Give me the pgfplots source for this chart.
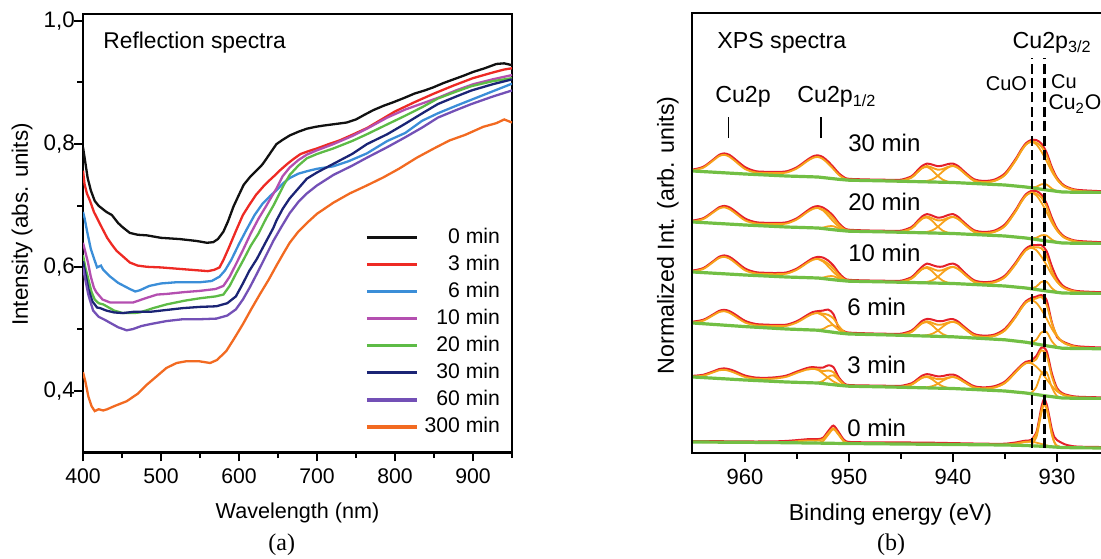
\documentclass[border=0pt]{standalone}
\usepackage{pgfplots}
\pgfplotsset{compat=1.18}
\usepackage{pgfplotstable}
\usepackage{fontspec}
\setmainfont{Liberation Sans}
\newfontfamily\timesfont{Liberation Serif}
\definecolor{cA}{HTML}{111111}
\definecolor{cB}{HTML}{EE2A24}
\definecolor{cC}{HTML}{3B8ED8}
\definecolor{cD}{HTML}{B44FB0}
\definecolor{cE}{HTML}{5DBB46}
\definecolor{cF}{HTML}{1B2475}
\definecolor{cG}{HTML}{7350B6}
\definecolor{cH}{HTML}{F26A21}
\definecolor{xred}{HTML}{E4202A}
\definecolor{xorg}{HTML}{F7A21B}
\definecolor{xgrn}{HTML}{72BF44}

% XPS spectra: E = binding energy, env = fit envelope, red = measured
\pgfplotstableread{
E env red
965 282.6 282.6
964 285.4 285.4
963 293.0 293.0
962.5 296.9 297.2
962 298.2 298.7
961.5 296.3 297.2
961 292.3 293.3
960 284.0 285.0
959 280.6 281.0
958 280.0 280.3
957 279.9 280.2
956 280.5 280.8
955 284.7 285.0
954 292.0 292.4
953.5 295.0 295.6
953 296.1 296.8
952.5 293.9 294.9
952 289.3 290.5
951.5 283.9 285.0
951 278.3 279.0
950.5 274.7 275.0
950 273.3 273.3
948 272.4 272.6
946 272.0 272.3
945 272.1 272.4
944 275.4 275.8
943.5 280.0 280.8
943 284.8 286.0
942.5 287.0 288.5
942 285.3 287.5
941.5 283.4 286.0
941 283.9 286.5
940.5 286.1 288.0
940 287.2 288.5
939.5 285.0 286.0
939 280.6 281.3
938 272.7 273.0
937 270.9 271.2
936 272.2 272.6
935 278.1 278.8
934 292.3 292.8
933.5 301.0 301.5
933 308.3 308.8
932.5 311.4 312.0
932 310.4 312.0
931.5 306.4 308.5
931 297.5 299.5
930.5 283.7 285.0
930 273.8 274.3
929.5 267.9 268.2
929 264.9 265.0
928 262.1 262.2
925 260.6 260.6
}\tThirty
\pgfplotstableread{
E env red
965 231.6 231.6
964 234.0 234.0
963 241.0 241.0
962.5 244.5 244.8
962 245.7 246.2
961.5 243.9 244.8
961 240.3 241.3
960 232.6 233.6
959 229.6 230.0
958 229.0 229.3
957 228.9 229.2
956 229.5 229.8
955 233.7 234.0
954 241.0 241.5
953.5 244.0 244.8
953 245.1 246.0
952.5 243.4 244.5
952 239.9 241.0
951.5 234.8 236.0
951 228.4 229.2
950.5 224.0 224.3
950 222.4 222.4
948 221.4 221.6
946 221.0 221.3
945 221.1 221.4
944 224.5 225.0
943.5 229.3 230.0
943 234.3 235.5
942.5 236.5 238.0
942 234.7 236.5
941.5 232.7 234.5
941 233.0 235.0
940.5 235.1 237.0
940 236.2 238.0
939.5 234.0 235.2
939 229.6 230.3
938 221.7 222.0
937 219.9 220.2
936 221.2 221.6
935 227.1 227.8
934 241.3 241.8
933.5 250.0 250.5
933 257.3 257.8
932.5 260.4 261.0
932 259.4 261.0
931.5 255.4 257.5
931 246.5 248.5
930.5 232.7 234.5
930 222.8 223.5
929.5 216.9 217.2
929 213.9 214.0
928 211.1 211.2
925 209.6 209.6
}\tTwenty
\pgfplotstableread{
E env red
965 181.6 181.6
964 184.1 184.1
963 191.4 191.4
962.5 195.0 195.3
962 196.2 196.7
961.5 194.4 195.3
961 190.7 191.7
960 182.7 183.6
959 179.6 180.0
958 179.0 179.3
957 178.8 179.1
956 179.4 179.7
955 183.4 183.7
954 190.2 190.6
953.5 193.1 193.8
953 194.1 195.2
952.5 192.5 194.5
952 189.2 191.5
951.5 184.4 186.5
951 178.2 179.5
950.5 173.9 174.3
950 172.3 172.3
948 171.4 171.6
946 171.0 171.3
945 171.1 171.4
944 174.4 174.9
943.5 179.0 179.8
943 183.8 185.2
942.5 186.0 188.5
942 184.3 187.0
941.5 182.4 185.5
941 182.9 185.5
940.5 185.1 187.5
940 186.2 188.5
939.5 184.0 186.0
939 179.6 180.5
938 171.6 172.0
937 169.7 170.0
936 170.8 171.2
935 176.0 176.6
934 188.6 189.2
933.5 196.3 197.0
933 202.7 203.5
932.5 205.6 206.5
932 205.7 207.0
931.5 204.7 207.0
931 197.0 201.0
930.5 182.1 186.0
930 171.7 174.0
929.5 166.2 167.0
929 163.5 163.8
928 160.9 161.0
925 159.6 159.6
}\tTen
\pgfplotstableread{
E env red
965 130.5 130.5
964 132.4 132.4
963 138.1 138.1
962.5 140.9 141.2
962 141.8 142.3
961.5 140.2 141.0
961 137.1 138.0
960 130.5 131.3
959 127.8 128.2
958 127.2 127.5
957 126.9 127.2
956 127.2 127.5
955 130.6 131.0
954 136.6 137.2
953.5 139.0 140.0
953 140.1 141.0
952.5 139.3 141.5
952 138.1 142.5
951.5 134.6 138.0
951 127.1 124.5
950.5 121.5 121.0
950 119.5 119.5
948 118.5 118.7
946 118.0 118.3
945 118.1 118.4
944 121.0 121.5
943.5 125.3 126.0
943 129.7 131.0
942.5 131.7 133.2
942 130.1 132.5
941.5 128.3 131.0
941 128.6 131.0
940.5 130.4 132.5
940 131.3 133.0
939.5 129.4 130.5
939 125.2 126.0
938 117.9 118.2
937 116.2 116.5
936 117.2 117.6
935 122.7 123.4
934 135.7 136.2
933.5 143.7 144.2
933 150.4 150.8
932.5 153.3 154.0
932 154.5 155.5
931.5 155.9 157.0
931 148.1 152.0
930.5 129.8 130.0
930 117.4 115.0
929.5 111.3 111.0
929 108.5 108.6
928 105.7 105.8
925 104.3 104.3
}\tSix
\pgfplotstableread{
E env red
965 76.3 76.3
964 77.4 77.4
963 80.9 81.0
962.5 82.7 83.0
962 83.2 83.7
961.5 82.1 82.8
961 80.2 81.0
960 76.0 76.6
959 74.3 74.6
958 74.0 74.3
957 74.6 74.9
956 76.3 76.6
955 80.2 80.6
954 83.6 84.2
953.5 84.2 85.0
953 83.5 84.5
952.5 81.9 84.5
952 82.5 86.8
951.5 80.8 85.0
951 74.2 75.0
950.5 68.8 69.0
950 67.1 67.1
948 66.4 66.6
946 66.0 66.3
945 66.0 66.3
944 68.4 68.8
943.5 71.7 72.3
943 75.2 76.3
942.5 76.7 78.0
942 75.4 77.0
941.5 73.9 75.8
941 74.0 76.0
940.5 75.4 77.2
940 76.1 77.6
939.5 74.5 75.6
939 71.4 72.0
938 65.8 66.0
937 64.6 64.8
936 65.6 66.0
935 70.1 70.6
934 80.5 81.0
933.5 85.9 86.3
933 89.8 90.3
932.5 90.8 91.5
932 93.7 96.0
931.5 102.8 104.5
931 97.7 101.0
930.5 76.7 79.0
930 63.1 64.0
929.5 58.7 59.0
929 57.0 57.1
928 55.3 55.4
925 54.6 54.6
}\tThree
\pgfplotstableread{
E env red
965 11.0 11.0
963 10.9 10.9
961 10.8 10.8
959 10.6 10.6
957 10.6 10.8
956 10.9 11.2
955 11.7 12.0
954 12.5 12.9
953.5 12.5 13.0
953 12.5 13.0
952.5 13.9 14.3
952 19.9 21.0
951.5 24.7 26.5
951 18.8 20.0
950.5 11.9 12.5
950 9.9 10.2
948 9.3 9.8
946 9.1 9.8
944 8.9 9.6
942 8.7 9.4
940 8.5 9.0
938 8.3 8.6
936 8.1 8.3
935 8.2 8.4
934 9.3 9.6
933.5 10.3 10.6
933 11.2 11.5
932.5 11.9 12.2
932 18.8 19.5
931.75 29.4 31.0
931.5 42.6 45.0
931.25 49.8 53.0
931 45.4 48.0
930.75 32.7 36.0
930.5 19.2 23.0
930.25 10.9 15.0
930 7.2 12.0
929.5 5.5 9.0
929 5.4 7.0
928 5.2 5.5
925 5.0 5.0
}\tZero

\begin{document}
\fontsize{10.8pt}{13pt}\selectfont
\begin{tikzpicture}
\useasboundingbox (0pt,0pt) rectangle (550.5pt,279pt);
\begin{scope}
\clip (0pt,0pt) rectangle (550.5pt,279pt);
% ---------------- (a) reflection spectra ----------------
\begin{axis}[
  at={(41.5pt,52.8pt)}, anchor=south west, scale only axis,
  width=214.5pt, height=219.2pt,
  xmin=400, xmax=950, ymin=0.3, ymax=1.011,
  axis line style={line width=1.2pt},
  tick style={black, line width=1pt},
  tick align=outside, xtick pos=left, ytick pos=left,
  major tick length=4.5pt, minor tick length=2.8pt,
  xtick={400,500,600,700,800,900}, xticklabels={400,500,600,700,800,900},
  minor xtick={450,550,650,750,850,950},
  ytick={0.4,0.6,0.8,1.0}, yticklabels={{0,4},{0,6},{0,8},{1,0}},
  minor ytick={0.5,0.7,0.9},
  xticklabel style={font=\fontsize{10.6pt}{12pt}\selectfont},
  yticklabel style={font=\fontsize{11.2pt}{13pt}\selectfont, xshift=4.2pt},
  xlabel={Wavelength (nm)}, ylabel={Intensity (abs. units)},
  every axis x label/.style={at={(axis description cs:0.5,0)}, anchor=center, yshift=-30.3pt, font=\fontsize{10.8pt}{13pt}\selectfont},
  every axis y label/.style={at={(axis description cs:-0.1422,0.52)}, anchor=center, rotate=90, font=\fontsize{11.2pt}{13pt}\selectfont},
  legend style={at={(axis cs:934.6,0.671)}, anchor=north east, draw=none, fill=none,
    inner sep=0pt, outer sep=0pt, row sep=0pt, column sep=3pt,
    font=\fontsize{10.6pt}{12pt}\selectfont,
    nodes={inner sep=0pt, minimum height=13.55pt}},
  legend cell align=right,
  legend image code/.code={\draw[#1, line width=1.7pt] (2pt,0pt) -- (27pt,0pt);},
  every axis plot/.append style={line width=1.15pt},
]
\addplot[cA] coordinates {(400,0.795) (403,0.77) (406,0.745) (410,0.725) (415,0.708) (420,0.70) (430,0.69) (437,0.685) (445,0.672) (451,0.665) (460,0.656) (470,0.653) (482,0.652) (500,0.648) (524,0.646) (545,0.643) (559,0.640) (567,0.641) (573,0.646) (580,0.658) (586,0.675) (593,0.699) (600,0.718) (606,0.734) (615,0.748) (623,0.758) (630,0.767) (635,0.776) (642,0.789) (648,0.800) (656,0.807) (665,0.814) (676,0.820) (687,0.825) (698,0.828) (708,0.830) (720,0.832) (738,0.835) (750,0.840) (760,0.847) (772,0.855) (785,0.862) (798,0.868) (812,0.875) (825,0.882) (838,0.887) (849,0.892) (862,0.899) (875,0.905) (888,0.911) (900,0.917) (915,0.923) (930,0.930) (940,0.931) (950,0.928)};
\addlegendentry{0 min}
\addplot[cB] coordinates {(400,0.757) (402,0.735) (405,0.72) (409,0.708) (414,0.69) (418,0.68) (424,0.665) (431,0.648) (437,0.637) (443,0.627) (452,0.617) (460,0.608) (470,0.603) (482,0.601) (500,0.600) (520,0.598) (540,0.596) (560,0.594) (568,0.596) (575,0.600) (580,0.612) (587,0.632) (597,0.662) (605,0.685) (614,0.703) (622,0.718) (631,0.731) (638,0.740) (644,0.747) (653,0.758) (662,0.768) (670,0.776) (679,0.784) (690,0.789) (700,0.793) (715,0.800) (729,0.806) (745,0.815) (764,0.826) (780,0.838) (800,0.853) (825,0.868) (850,0.882) (875,0.895) (900,0.907) (925,0.916) (940,0.921) (950,0.923)};
\addlegendentry{3 min}
\addplot[cC] coordinates {(400,0.69) (402,0.68) (405,0.66) (410,0.63) (414,0.615) (418,0.60) (423,0.603) (426,0.596) (435,0.585) (445,0.575) (451,0.571) (460,0.565) (467,0.561) (473,0.563) (485,0.570) (500,0.574) (520,0.576) (550,0.576) (565,0.578) (575,0.585) (582,0.595) (590,0.612) (600,0.638) (610,0.662) (620,0.685) (630,0.703) (640,0.716) (648,0.725) (657,0.737) (665,0.745) (676,0.752) (687,0.756) (700,0.760) (721,0.764) (740,0.772) (764,0.785) (790,0.805) (813,0.818) (835,0.838) (855,0.850) (878,0.862) (898,0.872) (920,0.883) (940,0.893) (950,0.898)};
\addlegendentry{6 min}
\addplot[cD] coordinates {(400,0.64) (403,0.625) (406,0.61) (410,0.585) (414,0.567) (417,0.56) (425,0.548) (435,0.543) (450,0.543) (464,0.543) (480,0.550) (495,0.556) (507,0.557) (530,0.560) (550,0.562) (570,0.565) (580,0.570) (588,0.585) (596,0.605) (605,0.628) (615,0.655) (625,0.679) (635,0.700) (648,0.728) (656,0.748) (665,0.762) (676,0.774) (687,0.783) (700,0.790) (721,0.800) (745,0.813) (764,0.825) (790,0.843) (813,0.856) (835,0.866) (855,0.875) (878,0.887) (900,0.897) (925,0.905) (950,0.912)};
\addlegendentry{10 min}
\addplot[cE] coordinates {(400,0.62) (403,0.60) (407,0.58) (411,0.56) (415,0.548) (420,0.542) (426,0.540) (440,0.530) (451,0.526) (465,0.526) (473,0.527) (490,0.534) (507,0.540) (530,0.546) (550,0.550) (570,0.553) (580,0.556) (588,0.570) (597,0.592) (606,0.613) (615,0.635) (625,0.655) (635,0.680) (644,0.700) (652,0.720) (658,0.735) (665,0.750) (676,0.765) (687,0.777) (700,0.784) (721,0.793) (745,0.805) (764,0.816) (790,0.832) (813,0.846) (835,0.860) (855,0.874) (878,0.885) (898,0.894) (925,0.902) (950,0.907)};
\addlegendentry{20 min}
\addplot[cF] coordinates {(400,0.61) (403,0.59) (407,0.565) (412,0.545) (418,0.535) (422,0.534) (430,0.530) (440,0.527) (451,0.526) (465,0.528) (486,0.528) (507,0.531) (528,0.534) (550,0.536) (571,0.537) (585,0.542) (596,0.553) (605,0.574) (613,0.594) (623,0.614) (633,0.638) (644,0.664) (648,0.676) (656,0.695) (665,0.712) (676,0.728) (687,0.744) (700,0.754) (721,0.768) (745,0.784) (764,0.800) (790,0.816) (813,0.833) (835,0.850) (855,0.865) (878,0.877) (898,0.887) (925,0.897) (950,0.905)};
\addlegendentry{30 min}
\addplot[cG] coordinates {(400,0.60) (403,0.58) (407,0.555) (413,0.530) (420,0.520) (428,0.515) (435,0.510) (445,0.503) (456,0.498) (464,0.500) (475,0.505) (486,0.508) (507,0.513) (528,0.516) (550,0.516) (571,0.517) (585,0.522) (596,0.532) (605,0.548) (614,0.568) (623,0.590) (633,0.615) (644,0.643) (654,0.665) (665,0.688) (676,0.706) (687,0.720) (700,0.733) (721,0.750) (745,0.765) (764,0.778) (790,0.795) (813,0.811) (835,0.827) (855,0.843) (878,0.855) (898,0.865) (925,0.877) (950,0.887)};
\addlegendentry{60 min}
\addplot[cH] coordinates {(400,0.43) (403,0.415) (407,0.39) (411,0.375) (415,0.367) (420,0.370) (426,0.368) (431,0.370) (440,0.375) (456,0.383) (470,0.395) (482,0.410) (495,0.424) (507,0.437) (520,0.445) (533,0.448) (548,0.448) (563,0.445) (572,0.450) (584,0.465) (594,0.485) (605,0.508) (616,0.533) (627,0.557) (638,0.580) (648,0.603) (658,0.625) (665,0.640) (676,0.658) (687,0.672) (700,0.687) (721,0.705) (742,0.720) (764,0.733) (785,0.746) (805,0.760) (828,0.778) (850,0.793) (870,0.806) (890,0.815) (913,0.828) (930,0.834) (940,0.840) (950,0.835)};
\addlegendentry{300 min}
\node[anchor=west, inner sep=0pt, font=\fontsize{11.4pt}{13pt}\selectfont] at (axis cs:425.6,0.964) {Reflection spectra};
\end{axis}
% ---------------- (b) XPS spectra ----------------
\begin{axis}[
  at={(346pt,52.5pt)}, anchor=south west, scale only axis,
  width=208.5pt, height=220pt,
  x dir=reverse, xmin=925, xmax=965.1, ymin=0, ymax=440,
  axis line style={line width=1.2pt},
  tick style={black, line width=1pt},
  tick align=outside, xtick pos=left,
  major tick length=4.5pt, minor tick length=2.8pt,
  xtick={930,940,950,960}, xticklabels={930,940,950,960},
  minor xtick={935,945,955},
  ytick=\empty,
  tick label style={font=\fontsize{11pt}{13pt}\selectfont},
  xlabel={Binding energy (eV)}, ylabel={Normalized Int. (arb. units)},
  every axis x label/.style={at={(axis description cs:0.476,0)}, anchor=center, yshift=-31pt, font=\fontsize{11.5pt}{13pt}\selectfont},
  every axis y label/.style={at={(axis description cs:-0.0576,0.495)}, anchor=center, rotate=90, font=\fontsize{11.6pt}{13pt}\selectfont},
  red/.style={xred, line width=1pt, smooth, tension=0.5, yshift=0.45pt},
  env/.style={xorg, line width=0.95pt, smooth, tension=0.5},
  comp/.style={xorg, line width=0.9pt, smooth, tension=0.5},
  bg/.style={xgrn, line width=1.6pt},
]
% 30 min
\addplot[red] table[x=E,y=red] {\tThirty};
\addplot[env] table[x=E,y=env] {\tThirty};
\addplot[comp] coordinates {(945,272.1)(944,275.4)(943.5,280.0)(943,284.6)(942.5,286.0)(942,282.7)(941.5,277.5)(941,273.4)(940.5,271.4)(940,270.5)};
\addplot[comp] coordinates {(943,271.5)(942.5,272.1)(942,273.6)(941.5,276.8)(941,281.4)(940.5,285.3)(940,287.0)(939.5,285.0)(939,280.6)(938,272.1)(937,269.3)};
\addplot[comp] coordinates {(937,270.6)(936,272.2)(935,278.1)(934,292.3)(933.5,301.0)(933,308.3)(932.5,311.2)(932,308.7)(931.5,301.4)(931,292.0)(930.5,281.5)(930,273.5)(929.5,267.9)(929,264.9)(928,262.1)};
\addplot[comp] coordinates {(932.5,265.4)(932,266.2)(931.5,268.7)(931,268.5)(930.5,264.4)(930,261.8)(929.5,261.0)};
\addplot[bg] coordinates {(965,282)(960,279)(956,277)(953,276)(951,273.7)(950,272.8)(946,272)(940,270.5)(935,268)(933,266)(931,263)(929.5,261)(928,260.7)(925,260.6)};
% 20 min
\addplot[red] table[x=E,y=red] {\tTwenty};
\addplot[env] table[x=E,y=env] {\tTwenty};
\addplot[comp] coordinates {(945,221.1)(944,224.5)(943.5,229.2)(943,234.0)(942.5,235.5)(942,232.1)(941.5,226.7)(941,222.4)(940.5,220.4)(940,219.7)};
\addplot[comp] coordinates {(943,220.5)(942.5,221.1)(942,222.6)(941.5,225.8)(941,230.4)(940.5,234.3)(940,236.0)(939.5,234.0)(939,229.6)(938,221.1)(937,218.3)};
\addplot[comp] coordinates {(953,225.1)(952.5,225.4)(952,226.7)(951.5,226.8)(951,224.6)(950.5,222.5)(950,221.8)};
\addplot[comp] coordinates {(953,245.0)(952.5,242.5)(952,237.2)(951.5,231.4)(951,226.5)(950.5,223.5)(950,222.3)};
\addplot[comp] coordinates {(937,219.6)(936,221.2)(935,227.1)(934,241.3)(933.5,250.0)(933,257.3)(932.5,260.2)(932,257.7)(931.5,250.4)(931,241.0)(930.5,230.5)(930,222.5)(929.5,216.9)(929,213.9)(928,211.1)};
\addplot[comp] coordinates {(932.5,214.4)(932,215.2)(931.5,217.7)(931,217.5)(930.5,213.4)(930,210.8)(929.5,210.0)};
\addplot[bg] coordinates {(965,231)(960,228)(956,226)(953,225)(951,222.7)(950,221.8)(946,221)(940,219.5)(935,217)(933,215)(931,212)(929.5,210)(928,209.7)(925,209.6)};
% 10 min
\addplot[red] table[x=E,y=red] {\tTen};
\addplot[env] table[x=E,y=env] {\tTen};
\addplot[comp] coordinates {(945,171.1)(944,174.4)(943.5,179.0)(943,183.6)(942.5,185.0)(942,181.7)(941.5,176.5)(941,172.4)(940.5,170.4)(940,169.7)};
\addplot[comp] coordinates {(943,170.5)(942.5,171.1)(942,172.6)(941.5,175.8)(941,180.4)(940.5,184.3)(940,186.0)(939.5,184.0)(939,179.6)(938,171.1)(937,168.3)};
\addplot[comp] coordinates {(953,175.1)(952.5,175.4)(952,176.7)(951.5,176.8)(951,174.6)(950.5,172.5)(950,171.8)};
\addplot[comp] coordinates {(953,194.0)(952.5,191.6)(952,186.5)(951.5,181.0)(951,176.3)(950.5,173.4)(950,172.3)};
\addplot[comp] coordinates {(937,169.4)(936,170.8)(935,176.0)(934,188.6)(933.5,196.3)(933,202.7)(932.5,205.2)(932,202.9)(931.5,196.3)(931,187.8)(930.5,178.4)(930,171.2)(929.5,166.2)(929,163.5)(928,160.9)};
\addplot[comp] coordinates {(932.5,164.6)(932,166.3)(931.5,171.1)(931,171.2)(930.5,164.9)(930,161.1)(929.5,160.0)};
\addplot[bg] coordinates {(965,181)(960,178)(956,176)(953,175)(951,172.7)(950,171.8)(946,171)(940,169.5)(935,167)(933,165)(931,162)(929.5,160)(928,159.7)(925,159.6)};
% 6 min
\addplot[red] table[x=E,y=red] {\tSix};
\addplot[env] table[x=E,y=env] {\tSix};
\addplot[comp] coordinates {(945,118.1)(944,121.0)(943.5,125.3)(943,129.5)(942.5,130.8)(942,127.7)(941.5,122.9)(941,119.0)(940.5,117.0)(940,116.3)};
\addplot[comp] coordinates {(943,117.3)(942.5,117.8)(942,119.2)(941.5,122.1)(941,126.2)(940.5,129.7)(940,131.2)(939.5,129.4)(939,125.2)(938,117.4)(937,114.7)};
\addplot[comp] coordinates {(953,123.1)(952.5,124.0)(952,126.9)(951.5,127.8)(951,123.9)(950.5,120.2)(950,119.1)};
\addplot[comp] coordinates {(953,139.8)(952.5,137.5)(952,132.8)(951.5,127.7)(951,123.2)(950.5,120.5)(950,119.4)};
\addplot[comp] coordinates {(937,115.9)(936,117.2)(935,122.7)(934,135.7)(933.5,143.7)(933,150.4)(932.5,152.8)(932,150.3)(931.5,143.3)(931,134.3)(930.5,124.3)(930,116.6)(929.5,111.3)(929,108.5)(928,105.7)};
\addplot[comp] coordinates {(932.5,110.3)(932,113.2)(931.5,120.6)(931,121.0)(930.5,111.8)(930,106.2)(929.5,104.8)};
\addplot[bg] coordinates {(965,130)(960,126.4)(956,124)(953,122.8)(951,120)(950,119)(946,118)(940,116.2)(935,113.2)(933,110.8)(931,107.2)(929.5,104.8)(928,104.4)(925,104.3)};
% 3 min
\addplot[red] table[x=E,y=red] {\tThree};
\addplot[env] table[x=E,y=env] {\tThree};
\addplot[comp] coordinates {(945,66.0)(944,68.4)(943.5,71.7)(943,75.0)(942.5,76.0)(942,73.6)(941.5,69.7)(941,66.7)(940.5,65.2)(940,64.6)};
\addplot[comp] coordinates {(943,65.4)(942.5,65.8)(942,66.8)(941.5,69.0)(941,72.2)(940.5,74.8)(940,76.0)(939.5,74.5)(939,71.4)(938,65.3)(937,63.2)};
\addplot[comp] coordinates {(953,70.4)(952.5,72.0)(952,76.2)(951.5,77.7)(951,72.9)(950.5,68.3)(950,66.9)};
\addplot[comp] coordinates {(954,83.3)(953.5,84.2)(953,83.2)(952.5,79.4)(952,75.3)(951.5,71.5)(951,69.0)(950.5,67.4)(950,66.9)};
\addplot[comp] coordinates {(937,64.4)(936,65.6)(935,70.1)(934,80.5)(933.5,85.9)(933,89.8)(932.5,89.9)(932,86.4)(931.5,81.0)(931,73.7)(930.5,67.1)(930,61.7)(929.5,58.7)(929,57.0)(928,55.3)};
\addplot[comp] coordinates {(932.5,60.1)(932,65.8)(931.5,79.5)(931,80.9)(930.5,65.8)(930,56.9)(929.5,55.0)};
\addplot[bg] coordinates {(965,76)(960,73)(956,71)(953,70)(951,67.7)(950,66.8)(946,66)(940,64.5)(935,62)(933,60)(931,57)(929.5,55)(928,54.7)(925,54.6)};
% 0 min
\addplot[red] table[x=E,y=red] {\tZero};
\addplot[env] table[x=E,y=env] {\tZero};
\addplot[comp] coordinates {(953,10.1)(952.5,11.9)(952,18.3)(951.5,23.7)(951,18.1)(950.5,11.6)(950,9.7)};
\addplot[comp] coordinates {(935,8.2)(934,9.3)(933.5,10.3)(933,11.2)(932.5,11.3)(932,10.4)(931.5,9.0)(931,7.6)(930.5,6.6)(930,5.9)};
\addplot[comp] coordinates {(932.5,7.9)(932,15.4)(931.75,26.6)(931.5,40.4)(931.25,48.2)(931,44.3)(930.75,32.0)(930.5,18.8)(930.25,10.6)(930,7.1)(929.5,5.5)};
\addplot[bg] coordinates {(965,11)(960,10.7)(956,10.3)(953,9.9)(951,9.6)(950,9.5)(946,9.1)(940,8.5)(935,8)(933,7.5)(931,6.5)(929.5,5.5)(928,5.2)(925,5)};
% markers
\addplot[black, line width=1.2pt, dash pattern=on 5pt off 2.2pt] coordinates {(932.4,5) (932.4,395)};
\addplot[black, line width=1.2pt, dash pattern=on 5pt off 2.2pt] coordinates {(931.2,5) (931.2,395)};
\addplot[black, line width=0.8pt] coordinates {(961.6,315) (961.6,336)};
\addplot[black, line width=0.8pt] coordinates {(952.7,315) (952.7,336)};
\begin{scope}[every node/.style={inner sep=0pt, font=\fontsize{11.6pt}{13pt}\selectfont}]
\node[anchor=west] at (axis cs:962.7,410) {XPS spectra};
\node[anchor=west] at (axis cs:962.9,356) {Cu2p};
\node[anchor=west] at (axis cs:955.0,356) {Cu2p\textsubscript{1/2}};
\node[anchor=west] at (axis cs:934.3,410) {Cu2p\textsubscript{3/2}};
\node[anchor=west, font=\fontsize{12pt}{14pt}\selectfont] at (axis cs:950.1,310) {30 min};
\node[anchor=west, font=\fontsize{12pt}{14pt}\selectfont] at (axis cs:950.1,251) {20 min};
\node[anchor=west, font=\fontsize{12pt}{14pt}\selectfont] at (axis cs:950.1,200) {10 min};
\node[anchor=west, font=\fontsize{12pt}{14pt}\selectfont] at (axis cs:950.2,146) {6 min};
\node[anchor=west, font=\fontsize{12pt}{14pt}\selectfont] at (axis cs:950.2,88) {3 min};
\node[anchor=west, font=\fontsize{12pt}{14pt}\selectfont] at (axis cs:950.2,25) {0 min};
\node[anchor=east, font=\fontsize{10pt}{12pt}\selectfont] at (axis cs:932.85,369) {CuO};
\node[anchor=west, font=\fontsize{10pt}{11pt}\selectfont] at (axis cs:930.6,371) {Cu};
\node[anchor=west, font=\fontsize{10.6pt}{12pt}\selectfont] at (axis cs:930.85,349) {Cu\textsubscript{2}O};
\end{scope}
\end{axis}
\end{scope}
\node[font=\timesfont\fontsize{12pt}{14pt}\selectfont] at (140.85pt,6.5pt) {(a)};
\node[font=\timesfont\fontsize{12pt}{14pt}\selectfont] at (445.5pt,6.5pt) {(b)};
\end{tikzpicture}
\end{document}
